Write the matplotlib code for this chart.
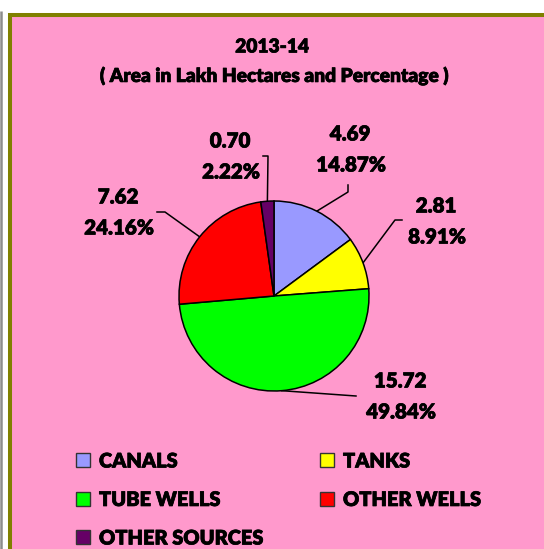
import numpy as np
import matplotlib.pyplot as plt
import matplotlib.patheffects as pe
from matplotlib.patches import Rectangle

plt.rcParams['font.family'] = ['Lato', 'DejaVu Sans']
plt.rcParams['font.weight'] = 'heavy'

# data (2013-14, area in lakh hectares)
sources = ["CANALS", "TANKS", "TUBE WELLS", "OTHER WELLS", "OTHER SOURCES"]
area = [4.69, 2.81, 15.72, 7.62, 0.70]
percent = [14.87, 8.91, 49.84, 24.16, 2.22]
colors = ['#9999FF', '#FFFF00', '#00FF00', '#FF0000', '#660066']

# layout in pixels (y down)
W, H = 544, 549
cx, cy, r = 274, 296, 95
label_pos = [(350, 134), (436, 206), (400, 381), (118, 197), (230, 141)]
# elbow points for the leader lines, ending near the label
elbows = [
    [(348, 192), (348, 185)],
    [(395, 220), (402, 220)],
    [(356, 396), (356, 396)],
    [(165, 212), (157, 212)],
    [(268, 156), (263, 156)],
]

# thicken the glyphs a little (reference uses a heavy bold face)
thick = [pe.withStroke(linewidth=0.5, foreground='black')]

fig = plt.figure(figsize=(W / 100, H / 100), dpi=100)
bg = fig.add_axes([0, 0, 1, 1])
bg.set_xlim(0, W)
bg.set_ylim(H, 0)
bg.axis('off')

# frame
bg.plot([1, 1], [11, H], color='#8C8C8C', lw=1.8, solid_capstyle='butt')
bg.add_patch(Rectangle((10, 15), 700, 700, facecolor='#FF99CC',
                       edgecolor='#808000', lw=2.9))

# title
bg.text(272, 47, "2013-14", ha='center', va='center', fontsize=13.8,
        path_effects=thick)
bg.text(274, 76, "( Area in Lakh Hectares and Percentage )",
        ha='center', va='center', fontsize=13.8, path_effects=thick)

# pie
pax = fig.add_axes([(cx - r) / W, (H - cy - r) / H, 2 * r / W, 2 * r / H])
wedges, _ = pax.pie(area, colors=colors, startangle=90, counterclock=False,
                    wedgeprops=dict(edgecolor='black', linewidth=1.1))
pax.set_xlim(-1, 1)
pax.set_ylim(-1, 1)
pax.set_aspect('equal')
pax.axis('off')

# leader lines and value labels
for w, pos, elb, a, p in zip(wedges, label_pos, elbows, area, percent):
    mid = np.deg2rad((w.theta1 + w.theta2) / 2)
    ex, ey = cx + r * np.cos(mid), cy - r * np.sin(mid)
    xs = [ex] + [e[0] for e in elb]
    ys = [ey] + [e[1] for e in elb]
    bg.plot(xs, ys, color='black', lw=1.1)
    bg.text(pos[0], pos[1], f"{a:.2f}", ha='center', va='center',
            fontsize=14.8, path_effects=thick)
    bg.text(pos[0] + 1, pos[1] + 31, f"{p:.2f}%", ha='center', va='center',
            fontsize=14.8, path_effects=thick)

# legend (two columns, row-wise)
for i, (name, c) in enumerate(zip(sources, colors)):
    row, col = divmod(i, 2)
    x0 = 76 + col * 244
    y0 = 460 + row * 38.5
    bg.add_patch(Rectangle((x0, y0 - 7), 14, 14, facecolor=c,
                           edgecolor='#333333', lw=1.0))
    bg.text(x0 + 23, y0 + 1, name, ha='left', va='center', fontsize=14.4,
            path_effects=thick)

fig.savefig('out.png', dpi=100, facecolor='white')
